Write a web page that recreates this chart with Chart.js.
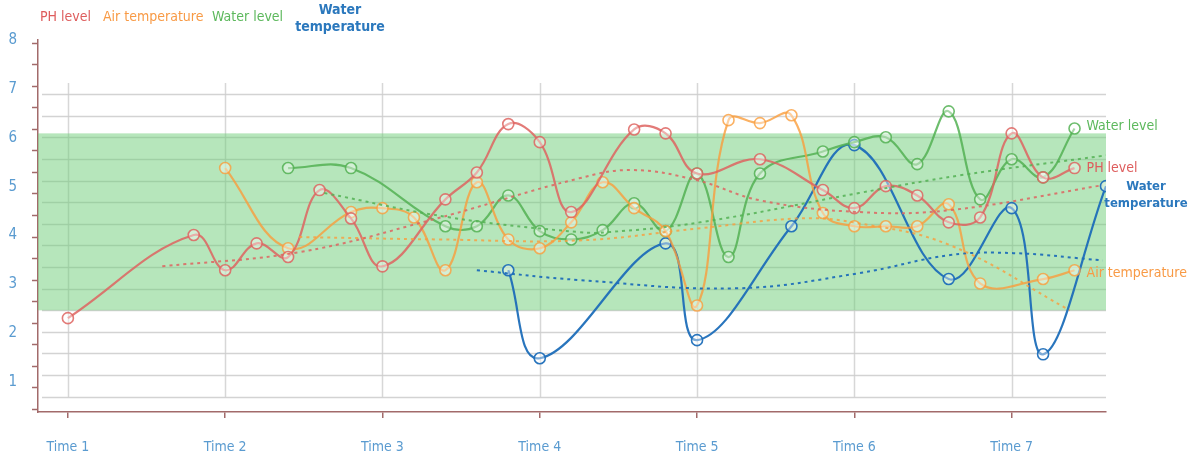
<!DOCTYPE html>
<html lang="en">
<head>
    <meta charset="UTF-8">
    <title>Water quality over time</title>
    <script src="https://cdn.jsdelivr.net/npm/chart.js"></script>
    <style>
        body {
            margin: 0;
            padding: 0;
            background: #fff;
        }

        #chart-box {
            width: 1190px;
            height: 457px;
        }
    </style>
</head>
<body>
    <div id="chart-box">
        <canvas id="myChart" width="1190" height="457"></canvas>
    </div>
    <script>
        // categories and tick labels
        const timeLabels = ['Time 1', 'Time 2', 'Time 3', 'Time 4', 'Time 5', 'Time 6', 'Time 7'];
        const yLabels = [1, 2, 3, 4, 5, 6, 7, 8];

        // PH level
        const phTimes = [1.0, 1.8, 2.0, 2.2, 2.4, 2.6, 2.8, 3.0, 3.4, 3.6, 3.8, 4.0, 4.2, 4.6, 4.8, 5.0, 5.4, 5.8, 6.0, 6.2, 6.4, 6.6, 6.8, 7.0, 7.2, 7.4];
        const phValues = [2.31, 4.01, 3.29, 3.84, 3.56, 4.93, 4.35, 3.37, 4.74, 5.29, 6.28, 5.91, 4.48, 6.17, 6.09, 5.27, 5.56, 4.93, 4.56, 5.01, 4.82, 4.27, 4.37, 6.09, 5.19, 5.38];

        // Air temperature
        const airTimes = [2.0, 2.4, 2.8, 3.0, 3.2, 3.4, 3.6, 3.8, 4.0, 4.2, 4.4, 4.6, 4.8, 5.0, 5.2, 5.4, 5.6, 5.8, 6.0, 6.2, 6.4, 6.6, 6.8, 7.2, 7.4];
        const airValues = [5.38, 3.74, 4.48, 4.56, 4.37, 3.29, 5.09, 3.92, 3.74, 4.27, 5.09, 4.56, 4.09, 2.57, 6.36, 6.30, 6.46, 4.46, 4.19, 4.19, 4.19, 4.64, 3.02, 3.11, 3.29];

        // Water level
        const levelTimes = [2.4, 2.8, 3.4, 3.6, 3.8, 4.0, 4.2, 4.4, 4.6, 4.8, 5.0, 5.2, 5.4, 5.8, 6.0, 6.2, 6.4, 6.6, 6.8, 7.0, 7.2, 7.4];
        const levelValues = [5.38, 5.38, 4.19, 4.19, 4.82, 4.09, 3.92, 4.11, 4.66, 4.09, 5.27, 3.56, 5.27, 5.72, 5.91, 6.01, 5.46, 6.54, 4.74, 5.56, 5.19, 6.19];

        // Water temperature
        const waterTempTimes = [3.8, 4.0, 4.8, 5.0, 5.6, 6.0, 6.6, 7.0, 7.2, 7.6];
        const waterTempValues = [3.29, 1.49, 3.84, 1.86, 4.19, 5.85, 3.11, 4.56, 1.57, 5.01];

        // dotted trend curves
        const phTrendTimes = [1.6, 2.47, 3.3, 4.25, 4.59, 5.0, 5.4, 6.03, 6.61, 7.58];
        const phTrendValues = [3.37, 3.66, 4.31, 5.17, 5.34, 5.13, 4.72, 4.48, 4.52, 5.03];
        const airTrendTimes = [2.47, 3.36, 4.25, 5.02, 5.65, 5.99, 6.61, 7.37];
        const airTrendValues = [3.97, 3.92, 3.90, 4.15, 4.35, 4.27, 3.80, 2.47];
        const levelTrendTimes = [2.63, 3.43, 4.25, 4.44, 5.02, 6.03, 6.67, 7.6];
        const levelTrendValues = [4.87, 4.37, 4.07, 4.07, 4.27, 4.87, 5.23, 5.64];
        const waterTempTrendTimes = [3.6, 4.25, 5.25, 6.03, 6.61, 7.01, 7.58];
        const waterTempTrendValues = [3.29, 3.09, 2.92, 3.23, 3.60, 3.64, 3.49];

        // optimal range band
        const bandLow = 2.47;
        const bandHigh = 6.09;

        const seriesNames = ['PH level', 'Air temperature', 'Water level', 'Water temperature'];

        const colors = {
            ph: 'rgba(222, 100, 96, 0.85)',
            air: 'rgba(250, 158, 60, 0.8)',
            level: 'rgba(84, 178, 84, 0.85)',
            water: 'rgba(30, 110, 185, 0.95)'
        };
        const labelColors = ['#de5d5d', '#f89a45', '#5cb85c', '#2b78bd'];

        function toPoints(xs, ys) {
            return xs.map((x, i) => ({ x: x, y: ys[i] }));
        }

        function seriesSet(label, xs, ys, color) {
            return {
                label: label,
                data: toPoints(xs, ys),
                borderColor: color,
                borderWidth: 2.2,
                backgroundColor: 'rgba(255, 255, 255, 0.4)',
                pointBorderColor: color,
                pointBorderWidth: 1.6,
                pointRadius: 5.5,
                tension: 0.4,
                fill: false
            };
        }

        function trendSet(xs, ys, color) {
            return {
                label: '',
                data: toPoints(xs, ys),
                borderColor: color,
                borderWidth: 2,
                borderDash: [3, 4],
                pointRadius: 0,
                tension: 0.4,
                fill: false
            };
        }

        const font = '"DejaVu Sans Condensed", "DejaVu Sans", sans-serif';

        // grid, band and tick marks drawn behind the lines
        const backdrop = {
            id: 'backdrop',
            beforeDatasetsDraw(chart) {
                const ctx = chart.ctx;
                const x = chart.scales.x;
                const y = chart.scales.y;
                const area = chart.chartArea;
                ctx.save();

                // horizontal grid lines
                ctx.strokeStyle = 'rgba(200, 200, 200, 0.8)';
                ctx.lineWidth = 1.5;
                for (let v = 6.89; v > 0.6; v -= 0.4417) {
                    const py = Math.round(y.getPixelForValue(v)) + 0.5;
                    ctx.beginPath();
                    ctx.moveTo(area.left + 4, py);
                    ctx.lineTo(area.right, py);
                    ctx.stroke();
                }

                // vertical grid lines at each time
                ctx.strokeStyle = 'rgba(205, 205, 205, 0.8)';
                const top = y.getPixelForValue(7.12);
                const bottom = y.getPixelForValue(0.69);
                for (let t = 1; t <= timeLabels.length; t++) {
                    const px = Math.round(x.getPixelForValue(t)) + 0.5;
                    ctx.beginPath();
                    ctx.moveTo(px, top);
                    ctx.lineTo(px, bottom);
                    ctx.stroke();
                }

                // minor tick marks on the y axis
                ctx.strokeStyle = '#a26a6a';
                ctx.lineWidth = 1.5;
                for (let v = 7.94; v > 0.4; v -= 0.44) {
                    const py = Math.round(y.getPixelForValue(v)) + 0.5;
                    ctx.beginPath();
                    ctx.moveTo(area.left - 6, py);
                    ctx.lineTo(area.left, py);
                    ctx.stroke();
                }

                // green band
                const b1 = y.getPixelForValue(bandHigh);
                const b2 = y.getPixelForValue(bandLow);
                ctx.fillStyle = 'rgba(110, 205, 120, 0.5)';
                ctx.fillRect(area.left, b1, x.getPixelForValue(7.6) - area.left, b2 - b1);
                ctx.restore();
            }
        };

        // legend on top and labels at the line ends
        const textLabels = {
            id: 'textLabels',
            afterDraw(chart) {
                const ctx = chart.ctx;
                const x = chart.scales.x;
                const y = chart.scales.y;
                ctx.save();
                ctx.textBaseline = 'middle';
                ctx.textAlign = 'left';

                // top legend
                ctx.font = '14px ' + font;
                ctx.fillStyle = labelColors[0];
                ctx.fillText(seriesNames[0], 40, 17);
                ctx.fillStyle = labelColors[1];
                ctx.fillText(seriesNames[1], 103, 17);
                ctx.fillStyle = labelColors[2];
                ctx.fillText(seriesNames[2], 212, 17);
                ctx.font = 'bold 14px ' + font;
                ctx.fillStyle = labelColors[3];
                ctx.textAlign = 'center';
                ctx.fillText('Water', 340, 10);
                ctx.fillText('temperature', 340, 27);

                // end labels
                const ends = [
                    [phTimes, phValues, 0, 12, 0],
                    [airTimes, airValues, 1, 12, 3],
                    [levelTimes, levelValues, 2, 12, -2]
                ];
                ctx.font = '14px ' + font;
                ctx.textAlign = 'left';
                ends.forEach(([xs, ys, i, dx, dy]) => {
                    const n = xs.length - 1;
                    ctx.fillStyle = labelColors[i];
                    ctx.fillText(seriesNames[i], x.getPixelForValue(xs[n]) + dx, y.getPixelForValue(ys[n]) + dy);
                });
                const wn = waterTempTimes.length - 1;
                const wx = x.getPixelForValue(waterTempTimes[wn]);
                const wy = y.getPixelForValue(waterTempValues[wn]);
                ctx.font = 'bold 13px ' + font;
                ctx.fillStyle = labelColors[3];
                ctx.textAlign = 'center';
                ctx.fillText('Water', wx + 40, wy);
                ctx.fillText('temperature', wx + 40, wy + 17);
                ctx.restore();
            }
        };

        const ctx = document.getElementById('myChart').getContext('2d');
        const myChart = new Chart(ctx, {
            type: 'line',
            data: {
                datasets: [
                    trendSet(phTrendTimes, phTrendValues, colors.ph),
                    trendSet(airTrendTimes, airTrendValues, colors.air),
                    trendSet(levelTrendTimes, levelTrendValues, colors.level),
                    trendSet(waterTempTrendTimes, waterTempTrendValues, colors.water),
                    seriesSet(seriesNames[0], phTimes, phValues, colors.ph),
                    seriesSet(seriesNames[1], airTimes, airValues, colors.air),
                    seriesSet(seriesNames[2], levelTimes, levelValues, colors.level),
                    seriesSet(seriesNames[3], waterTempTimes, waterTempValues, colors.water)
                ]
            },
            options: {
                responsive: false,
                animation: false,
                layout: {
                    padding: { top: 40, right: 84, left: 0, bottom: 0 }
                },
                plugins: {
                    legend: { display: false },
                    tooltip: { enabled: false }
                },
                scales: {
                    x: {
                        type: 'linear',
                        min: 0.81,
                        max: 7.6,
                        afterBuildTicks: (scale) => {
                            scale.ticks = timeLabels.map((l, i) => ({ value: i + 1 }));
                        },
                        afterFit: (scale) => { scale.height = 45; },
                        grid: {
                            drawOnChartArea: false,
                            drawTicks: true,
                            tickLength: 6,
                            color: '#a26a6a',
                            lineWidth: 1.5
                        },
                        border: { color: '#a26a6a', width: 1.5 },
                        ticks: {
                            padding: 21,
                            color: '#5a9bd0',
                            font: { size: 14, family: font },
                            maxRotation: 0,
                            callback: (v) => timeLabels[Math.round(v) - 1]
                        }
                    },
                    y: {
                        min: 0.39,
                        max: 8,
                        afterBuildTicks: (scale) => {
                            scale.ticks = yLabels.map(v => ({ value: v }));
                        },
                        afterFit: (scale) => { scale.width = 38; },
                        grid: { display: false },
                        border: { color: '#a26a6a', width: 1.5 },
                        ticks: {
                            padding: 13,
                            color: '#5a9bd0',
                            font: { size: 15, family: font }
                        }
                    }
                }
            },
            plugins: [backdrop, textLabels]
        });
    </script>
</body>
</html>
